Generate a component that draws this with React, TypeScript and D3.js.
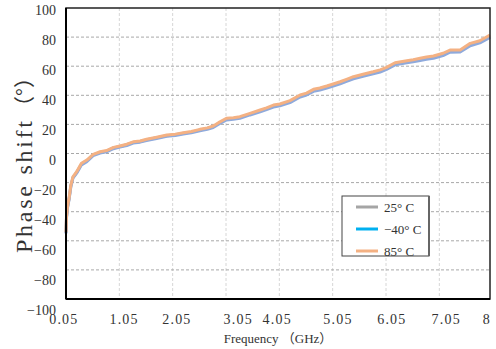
import React from 'react';
import * as d3 from 'd3';

// frequency points (GHz)
const freq = [0.05, 0.06, 0.08, 0.11, 0.14, 0.18, 0.25, 0.34, 0.44, 0.56, 0.69, 0.81, 0.94, 1.06, 1.19, 1.31, 1.44, 1.56, 1.75, 1.94, 2.1, 2.25, 2.4, 2.56, 2.7, 2.81, 2.91, 3.06, 3.19, 3.31, 3.5, 3.69, 3.81, 3.94, 4.06, 4.25, 4.44, 4.56, 4.69, 4.81, 4.94, 5.06, 5.19, 5.31, 5.44, 5.62, 5.81, 5.94, 6.06, 6.22, 6.44, 6.56, 6.69, 6.81, 6.94, 7.12, 7.25, 7.44, 7.63, 7.81, 8.0];

// phase shift (deg)
const phase25 = [-54.5, -43.5, -36.5, -30.5, -22.5, -16.5, -13, -7.2, -5, -1, 0.8, 1.6, 3.8, 4.8, 6, 7.6, 8.2, 9.4, 10.8, 12.2, 12.9, 13.9, 14.7, 16.1, 17.2, 18.4, 20.7, 23.7, 24.1, 24.8, 27.1, 29.3, 30.8, 32.6, 33.4, 35.7, 39.5, 40.9, 43.4, 44.3, 45.7, 47.1, 48.6, 50.3, 52.0, 53.8, 55.5, 56.8, 58.5, 61.7, 63.1, 63.8, 64.7, 65.6, 66.3, 68.1, 70.4, 70.5, 74.9, 76.8, 80.6];
const phaseM40 = [-55, -44, -37, -31, -23, -17, -13.5, -7.8, -5.6, -1.5, 0.3, 1.2, 3.3, 4.4, 5.5, 7.2, 7.8, 8.9, 10.3, 11.8, 12.4, 13.4, 14.2, 15.6, 16.7, 17.9, 20.2, 23.1, 23.6, 24.2, 26.5, 28.6, 30.2, 31.9, 32.8, 35.0, 38.8, 40.2, 42.7, 43.6, 45.0, 46.4, 47.9, 49.6, 51.3, 53.1, 54.8, 56.0, 57.8, 60.9, 62.3, 63.0, 63.9, 64.8, 65.5, 67.3, 69.6, 69.8, 74.0, 76.0, 79.8];
const phase85 = [-54, -43, -36, -30, -22, -16, -12.5, -6.7, -4.5, -0.6, 1.2, 2, 4.2, 5.2, 6.4, 8, 8.6, 9.8, 11.2, 12.7, 13.3, 14.3, 15.1, 16.6, 17.6, 18.9, 21.2, 24.2, 24.6, 25.3, 27.6, 29.9, 31.4, 33.3, 34, 36.3, 40.2, 41.5, 44.1, 45, 46.4, 47.8, 49.3, 51, 52.8, 54.5, 56.2, 57.5, 59.2, 62.4, 63.8, 64.5, 65.4, 66.3, 67, 68.9, 71.1, 71.1, 75.7, 77.5, 81.4];

const xGrid = [1.05, 2.05, 3.05, 4.05, 5.05, 6.05, 7.05];
const xTickLabels = ['0.05', '1.05', '2.05', '3.05', '4.05', '5.05', '6.05', '7.05', '8'];
const xTickLabelAt = [0.01, 1.14, 2.13, 3.28, 4.01, 5.15, 6.16, 7.18, 7.94];
const yTicks = [100, 80, 60, 40, 20, 0, -20, -40, -60, -80, -100];

const series = [
  { name: '25° C', values: phase25, color: '#a5a5a5', legendColor: '#a5a5a5' },
  { name: '−40° C', values: phaseM40, color: '#8faadc', legendColor: '#00b0f0' },
  { name: '85° C', values: phase85, color: '#f4b183', legendColor: '#f4b183' },
];

const W = 496, H = 349;
const margin = { top: 8, right: 6, bottom: 50, left: 66 };

export default function App() {
  const x = d3.scaleLinear().domain([0.05, 8]).range([margin.left, W - margin.right]);
  const y = d3.scaleLinear().domain([-100, 100]).range([H - margin.bottom, margin.top]);

  const line = d3.line<number>()
    .x((_, i) => x(freq[i]))
    .y(d => y(d));

  const serif = '"Liberation Serif", "Noto Sans CJK SC", serif';
  const cjk = '"Noto Sans CJK SC", sans-serif';

  return (
    <svg width={W} height={H} style={{ position: 'absolute', left: 0, top: 0, background: '#fff' }}>
      {/* grid */}
      {xGrid.map(f => (
        <line key={f} x1={x(f)} x2={x(f)} y1={y(100)} y2={y(-100)}
          stroke="#d6d6d6" strokeDasharray="3,2" strokeWidth={1} />
      ))}
      {yTicks.filter(v => v !== 100 && v !== -100).map(v => (
        <line key={v} x1={x(0.05)} x2={x(8)} y1={y(v)} y2={y(v)}
          stroke="#a8a8a8" strokeDasharray="3,2" strokeWidth={1} />
      ))}

      {/* series */}
      {series.map(s => (
        <path key={s.name} d={line(s.values) ?? ''} fill="none" stroke={s.color}
          strokeWidth={3} strokeLinejoin="round" />
      ))}

      {/* frame */}
      <rect x={x(0.05)} y={y(100)} width={x(8) - x(0.05)} height={y(-100) - y(100)}
        fill="none" stroke="#222" strokeWidth={1.5} />
      <line x1={x(0.05)} x2={x(0.05)} y1={y(100)} y2={y(-100)} stroke="#000" strokeWidth={2} />
      <line x1={x(0.05)} x2={x(8)} y1={y(-100)} y2={y(-100)} stroke="#000" strokeWidth={2} />

      {/* y tick labels */}
      {yTicks.map(v => (
        <text key={v} x={56} y={y(v) + 2 + (100 - v) * 0.045} dy="0.35em" textAnchor="end"
          fontFamily={serif} fontSize={14} fill="#333">
          {v < 0 ? '−' + Math.abs(v) : v}
        </text>
      ))}

      {/* x tick labels */}
      {xTickLabels.map((t, i) => (
        <text key={t} x={x(xTickLabelAt[i])} y={324} textAnchor="middle"
          fontFamily={serif} fontSize={14} letterSpacing={1.2} fill="#333">
          {t}
        </text>
      ))}

      {/* axis titles */}
      <text x={278} y={343} textAnchor="middle" fontFamily={serif} fontSize={13} fill="#333">
        Frequency （GHz）
      </text>
      <text transform={`translate(32, 187) rotate(-90)`} textAnchor="middle"
        fontFamily={serif} fontSize={24} fill="#333" textLength={132} lengthAdjust="spacing">
        Phase shift
      </text>
      <text transform={`translate(32, 92) rotate(-90)`} textAnchor="middle"
        fontFamily={cjk} fontSize={21} fill="#333">
        （°）
      </text>

      {/* legend */}
      <g>
        <rect x={342} y={196} width={87} height={60} fill="#fff" stroke="#444" strokeWidth={1} />
        <line x1={429} x2={429} y1={196} y2={256} stroke="#666" strokeWidth={2} />
        {series.map((s, i) => (
          <g key={s.name} transform={`translate(356, ${207 + i * 22})`}>
            <line x1={0} x2={22} y1={0} y2={0} stroke={s.legendColor} strokeWidth={3} />
            <text x={28} y={0} dy="0.4em" fontFamily={serif} fontSize={13} fill="#333">
              {s.name}
            </text>
          </g>
        ))}
      </g>
    </svg>
  );
}
